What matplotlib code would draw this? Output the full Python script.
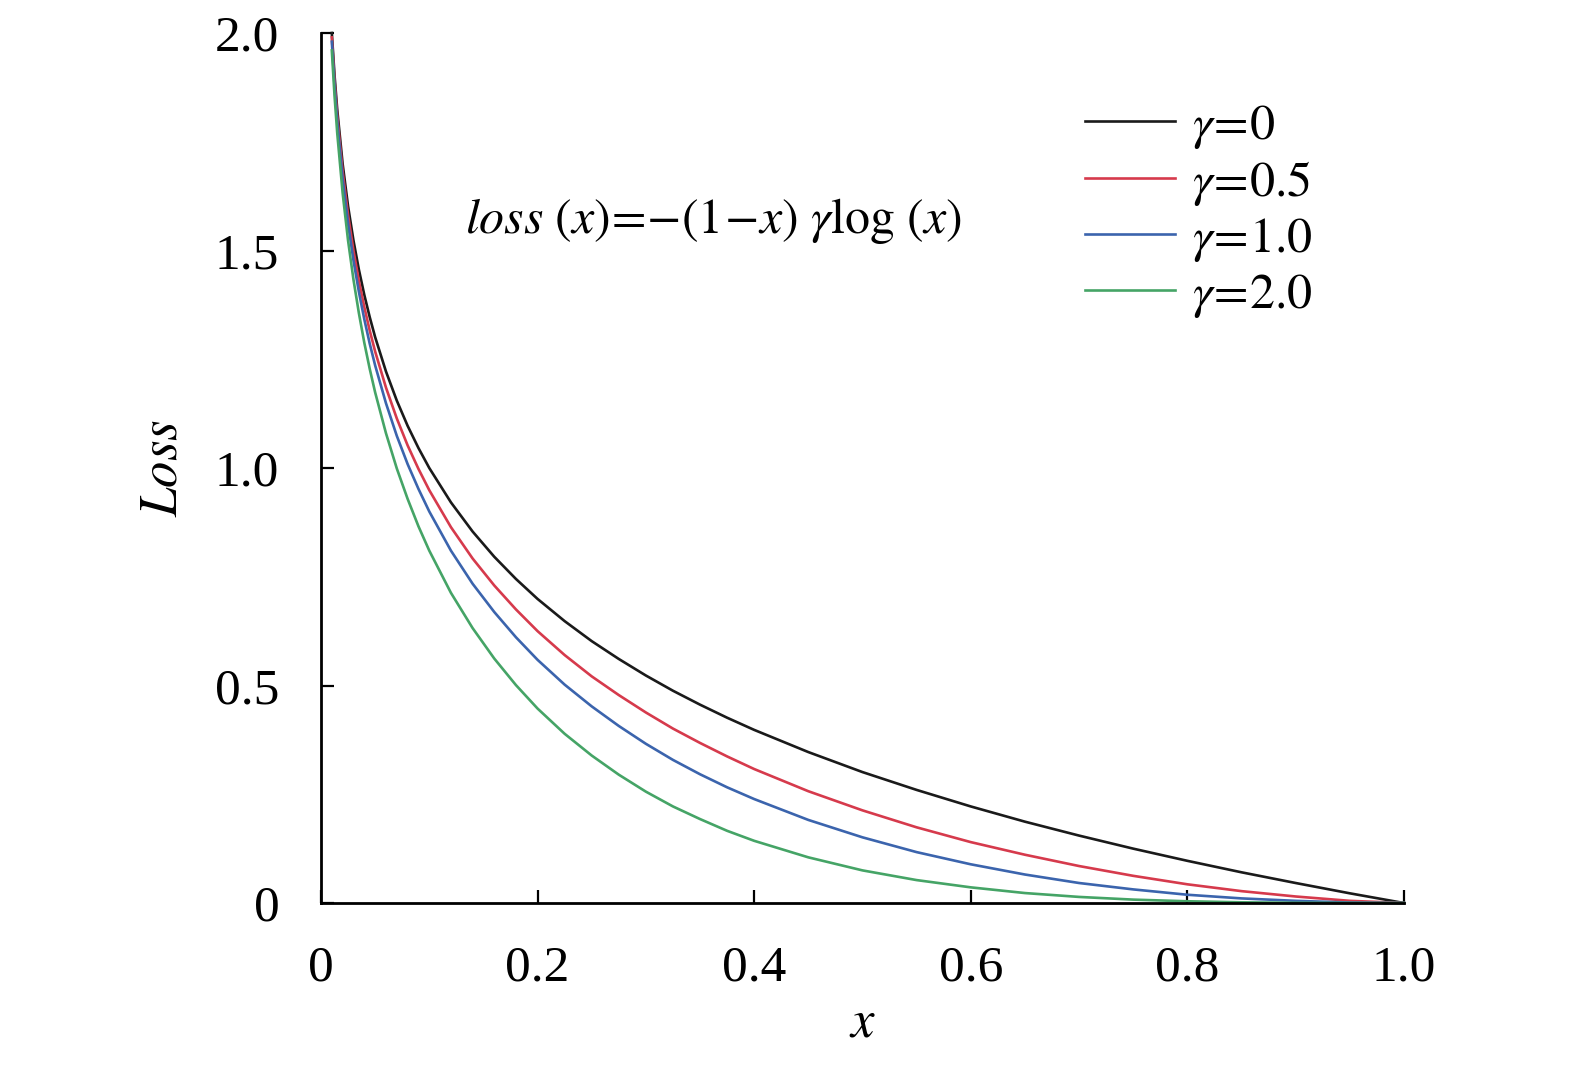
import matplotlib
matplotlib.use('Agg')
import matplotlib.pyplot as plt

plt.rcParams['font.family'] = ['Liberation Serif', 'DejaVu Serif']
plt.rcParams['mathtext.fontset'] = 'stix'

# values
x = [0.01, 0.0125, 0.015, 0.02, 0.025, 0.03, 0.035, 0.04, 0.045, 0.05,
     0.06, 0.07, 0.08, 0.09, 0.1, 0.12, 0.14, 0.16, 0.18, 0.2,
     0.225, 0.25, 0.275, 0.3, 0.325, 0.35, 0.375, 0.4, 0.45, 0.5,
     0.55, 0.6, 0.65, 0.7, 0.75, 0.8, 0.85, 0.9, 0.95, 1.0]
loss_g0 = [2.0, 1.903, 1.824, 1.699, 1.602, 1.523, 1.456, 1.398, 1.347, 1.301,
           1.222, 1.155, 1.097, 1.046, 1.0, 0.921, 0.854, 0.796, 0.745, 0.699,
           0.648, 0.602, 0.561, 0.523, 0.488, 0.456, 0.426, 0.398, 0.347, 0.301,
           0.260, 0.222, 0.187, 0.155, 0.125, 0.097, 0.0706, 0.046, 0.0223, 0.0]
loss_g05 = [1.990, 1.891, 1.810, 1.682, 1.582, 1.500, 1.430, 1.370, 1.316, 1.268,
            1.185, 1.114, 1.052, 0.998, 0.949, 0.864, 0.792, 0.730, 0.675, 0.625,
            0.570, 0.521, 0.478, 0.438, 0.401, 0.368, 0.337, 0.308, 0.257, 0.213,
            0.174, 0.140, 0.111, 0.085, 0.0625, 0.043, 0.0273, 0.015, 0.0050, 0.0]
loss_g1 = [1.980, 1.879, 1.797, 1.665, 1.562, 1.477, 1.405, 1.342, 1.286, 1.236,
           1.149, 1.074, 1.009, 0.952, 0.900, 0.810, 0.734, 0.669, 0.611, 0.559,
           0.502, 0.452, 0.407, 0.366, 0.329, 0.296, 0.266, 0.239, 0.191, 0.151,
           0.117, 0.089, 0.0655, 0.046, 0.0313, 0.019, 0.0106, 0.005, 0.0011, 0.0]
loss_g2 = [1.960, 1.856, 1.770, 1.632, 1.523, 1.433, 1.356, 1.288, 1.228, 1.174,
           1.080, 0.999, 0.929, 0.866, 0.810, 0.713, 0.632, 0.562, 0.501, 0.447,
           0.389, 0.339, 0.295, 0.256, 0.222, 0.193, 0.166, 0.143, 0.105, 0.075,
           0.0527, 0.036, 0.0229, 0.014, 0.0078, 0.004, 0.0016, 0.0005, 0.0001, 0.0]

series = [(loss_g0, r'$\gamma\!=\!\mathrm{0}$', '#1a1a1a'),
          (loss_g05, r'$\gamma\!=\!\mathrm{0.5}$', '#d63a4c'),
          (loss_g1, r'$\gamma\!=\!\mathrm{1.0}$', '#3b64ad'),
          (loss_g2, r'$\gamma\!=\!\mathrm{2.0}$', '#45a466')]

xticks = [0, 0.2, 0.4, 0.6, 0.8, 1.0]
xticklabels = ['0', '0.2', '0.4', '0.6', '0.8', '1.0']
yticks = [0, 0.5, 1.0, 1.5, 2.0]
yticklabels = ['0', '0.5', '1.0', '1.5', '2.0']

fig = plt.figure(figsize=(15.75, 10.65), dpi=100)
ax = fig.add_axes([0.2038, 0.1521, 0.6876, 0.8169])

for y, label, color in series:
    ax.plot(x, y, color=color, lw=1.9, label=label, clip_on=False)

ax.set_xlim(0, 1.0)
ax.set_ylim(0, 2.0)
ax.set_xticks(xticks)
ax.set_xticklabels(xticklabels)
ax.set_yticks(yticks)
ax.set_yticklabels(yticklabels)
ax.spines['top'].set_visible(False)
ax.spines['right'].set_visible(False)
for s in ['left', 'bottom']:
    ax.spines[s].set_linewidth(2.0)
ax.tick_params(direction='in', length=9.5, width=1.6, labelsize=37)
ax.tick_params(axis='x', pad=30)
ax.tick_params(axis='y', pad=30)

ax.set_xlabel(r'$x$', fontsize=38, labelpad=6)
ax.set_ylabel(r'$Loss$', fontsize=38, labelpad=20)

ax.text(0.133, 1.54, r'$loss\ (x)\!=\!{-}(1\!-\!x)\ \gamma\mathrm{log}\ (x)$',
        fontsize=36, ha='left', va='baseline')

ax.legend(loc='upper left', bbox_to_anchor=(0.7054, 0.92), frameon=False, fontsize=36,
          handlelength=1.8, handletextpad=0.35, labelspacing=0.16, borderpad=0,
          borderaxespad=0)

fig.savefig('out.png', dpi=100)
